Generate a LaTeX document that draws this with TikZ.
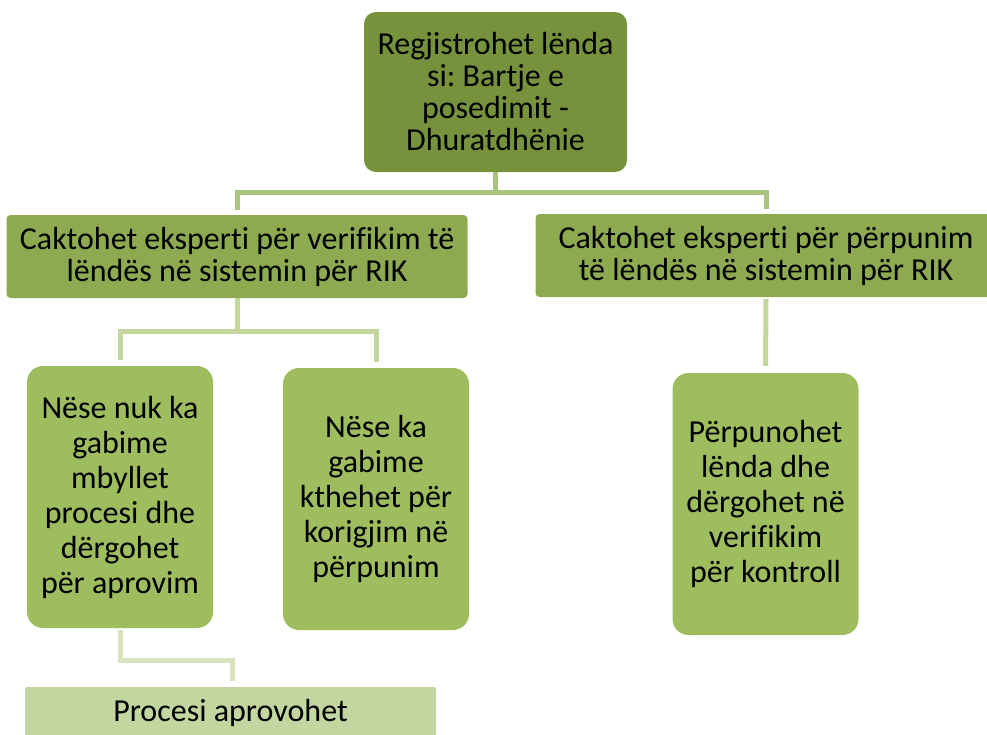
\documentclass[tikz,border=0pt]{standalone}
\usepackage{fontspec}
\setmainfont{Carlito}[Ligatures={NoCommon,NoRare,NoContextual}]
\usetikzlibrary{positioning}
\frenchspacing

\begin{document}
\begin{tikzpicture}[x=1pt, y=-1pt,
    % box styles
    topbox/.style={fill=topgreen, rounded corners=12pt, minimum width=263pt, minimum height=160pt,
        inner sep=0pt, align=center, font=\fontsize{32}{32}\selectfont},
    midbox/.style={fill=midgreen, rounded corners=4pt, minimum width=461pt, minimum height=83pt,
        inner sep=0pt, align=center, font=\fontsize{32}{32}\selectfont},
    lowbox/.style={fill=lowgreen, rounded corners=16pt, minimum width=186pt, minimum height=262pt,
        inner sep=0pt, align=center, font=\fontsize{32}{35}\selectfont},
    endbox/.style={fill=endgreen, rounded corners=2pt, minimum width=411pt, minimum height=52pt,
        inner sep=0pt, align=center, font=\fontsize{32}{32}\selectfont},
    % connector styles
    linkA/.style={draw=linkgreenA, line width=5pt},
    linkB/.style={draw=linkgreenB, line width=5pt},
    linkC/.style={draw=linkgreenC, line width=5pt}]
    % Define custom colors
    \definecolor{topgreen}{RGB}{118,146,60}
    \definecolor{midgreen}{RGB}{141,170,81}
    \definecolor{lowgreen}{RGB}{157,189,94}
    \definecolor{endgreen}{RGB}{194,214,160}
    \definecolor{linkgreenA}{RGB}{169,196,127}
    \definecolor{linkgreenB}{RGB}{195,214,155}
    \definecolor{linkgreenC}{RGB}{215,228,189}

    \path[use as bounding box, clip] (0,0) rectangle (987,734);

    % top box
    \node[topbox] (reg) at (495.5,92) {Regjistrohet lënda\\si: Bartje e\\posedimit -\\Dhuratdhënie};

    % second row
    \node[midbox] (ver) at (237,256.5) {Caktohet eksperti për verifikim të\\lëndës në sistemin për RIK};
    \node[midbox] (per) at (766,255.5) {Caktohet eksperti për përpunim\\të lëndës në sistemin për RIK};

    % third row
    \node[lowbox] (ngab) at (120,497) {Nëse nuk ka\\gabime\\mbyllet\\procesi dhe\\dërgohet\\për aprovim};
    \node[lowbox] (kgab) at (376,499) {Nëse ka\\gabime\\kthehet për\\korigjim në\\përpunim};
    \node[lowbox] (perp) at (765.5,504) {Përpunohet\\lënda dhe\\dërgohet në\\verifikim\\për kontroll};

    % last box
    \node[endbox] (apr) at (230.5,713) {Procesi aprovohet};

    % connectors
    \draw[linkA] (reg.south) -- ++(0,20) -| ([yshift=5pt]ver.north);
    \draw[linkA] (reg.south) -- ++(0,20) -| ([yshift=5pt]per.north);
    \draw[linkB] (ver.south) -- ++(0,33) -| ([yshift=6pt]ngab.north);
    \draw[linkB] (ver.south) -- ++(0,33) -| ([yshift=6pt]kgab.north);
    \draw[linkB] ([yshift=-2pt]per.south) -- ([yshift=7pt]perp.north);
    \draw[linkC] ([yshift=-2pt]ngab.south) -- ++(0,30) -| ([xshift=1.5pt,yshift=6pt]apr.north);
\end{tikzpicture}
\end{document}
